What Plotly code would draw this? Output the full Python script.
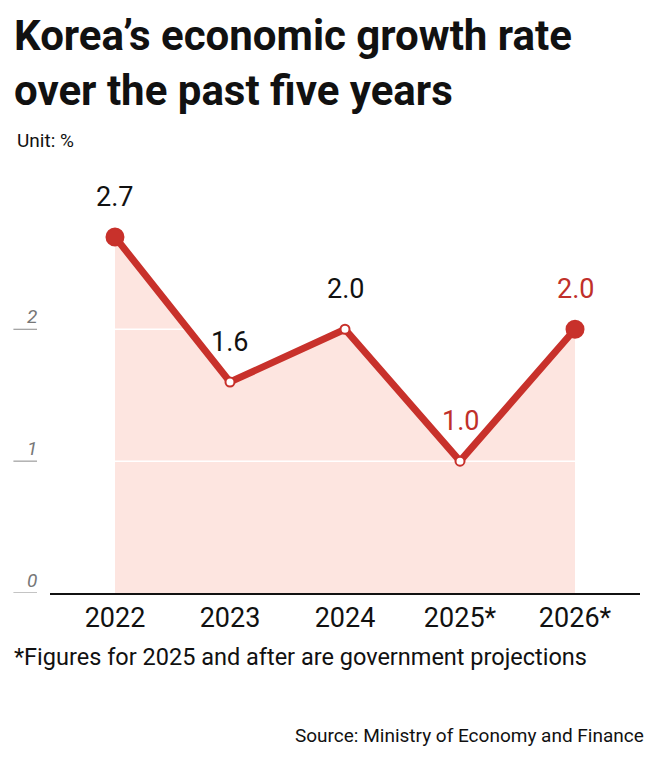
import plotly.graph_objects as go

years = ["2022", "2023", "2024", "2025*", "2026*"]
growth = [2.7, 1.6, 2.0, 1.0, 2.0]
label_colors = ["#111111", "#111111", "#111111", "#c0302a", "#c0302a"]
y_ticks = [0, 1, 2]

FONT = "Liberation Sans Narrow, Roboto, sans-serif"
RED = "#c8312b"
xs = list(range(len(years)))

fig = go.Figure()
fig.add_trace(go.Scatter(x=xs, y=growth, mode="lines", line=dict(width=0),
                         fill="tozeroy", fillcolor="#fde5e0", hoverinfo="skip"))
for t in y_ticks[1:]:
    fig.add_trace(go.Scatter(x=[xs[0], xs[-1]], y=[t, t], mode="lines",
                             line=dict(color="white", width=1.5), hoverinfo="skip"))
sizes = [17 if i in (0, len(xs) - 1) else 9 for i in xs]
fills = [RED if i in (0, len(xs) - 1) else "white" for i in xs]
fig.add_trace(go.Scatter(x=xs, y=growth, mode="lines+markers",
                         line=dict(color=RED, width=7),
                         marker=dict(size=sizes, color=fills, opacity=1,
                                     line=dict(color=RED, width=2))))

for x, v, c in zip(xs, growth, label_colors):
    fig.add_annotation(x=x, y=v, text=f"{v:.1f}", showarrow=False, yshift=40,
                       font=dict(size=27, color=c, family=FONT))

for t in y_ticks:
    fig.add_annotation(xref="paper", x=-0.042, y=t, yshift=13, text=f"<i>{t}</i>",
                       showarrow=False, font=dict(size=19, color="#777777", family=FONT))
    fig.add_shape(type="line", xref="paper", x0=-0.062, x1=-0.022, y0=t, y1=t,
                  line=dict(color="#888888", width=1))

fig.add_annotation(xref="paper", yref="paper", x=-0.065, y=1.385, xanchor="left", yanchor="top",
                   align="left", text="<b>Korea’s economic growth rate<br>over the past five years</b>",
                   showarrow=False, font=dict(size=42, color="#111111", family=FONT))
fig.add_annotation(xref="paper", yref="paper", x=-0.06, y=1.105, xanchor="left",
                   text="Unit: %", showarrow=False, font=dict(size=19, color="#111111", family=FONT))
fig.add_annotation(xref="paper", yref="paper", x=-0.065, y=-0.19, xanchor="left",
                   text="*Figures for 2025 and after are government projections", showarrow=False,
                   font=dict(size=23.5, color="#111111", family=FONT))
fig.add_annotation(xref="paper", yref="paper", x=1.01, y=-0.37, xanchor="right",
                   text="Source: Ministry of Economy and Finance", showarrow=False,
                   font=dict(size=19, color="#111111", family=FONT))

fig.update_layout(
    width=642, height=744,
    margin=dict(l=42, r=10, t=163, b=159),
    paper_bgcolor="white", plot_bgcolor="white",
    showlegend=False,
    xaxis=dict(range=[-0.565, 4.565], tickvals=xs, ticktext=years, showgrid=False,
               zeroline=False, showline=True, linecolor="#111111", linewidth=1.5,
               tickfont=dict(size=27, color="#111111", family=FONT), ticklen=8,
               tickcolor="white", fixedrange=True),
    yaxis=dict(range=[0, 3.2], showgrid=False, zeroline=False, showticklabels=False,
               fixedrange=True),
)

fig.write_html("out.html")
